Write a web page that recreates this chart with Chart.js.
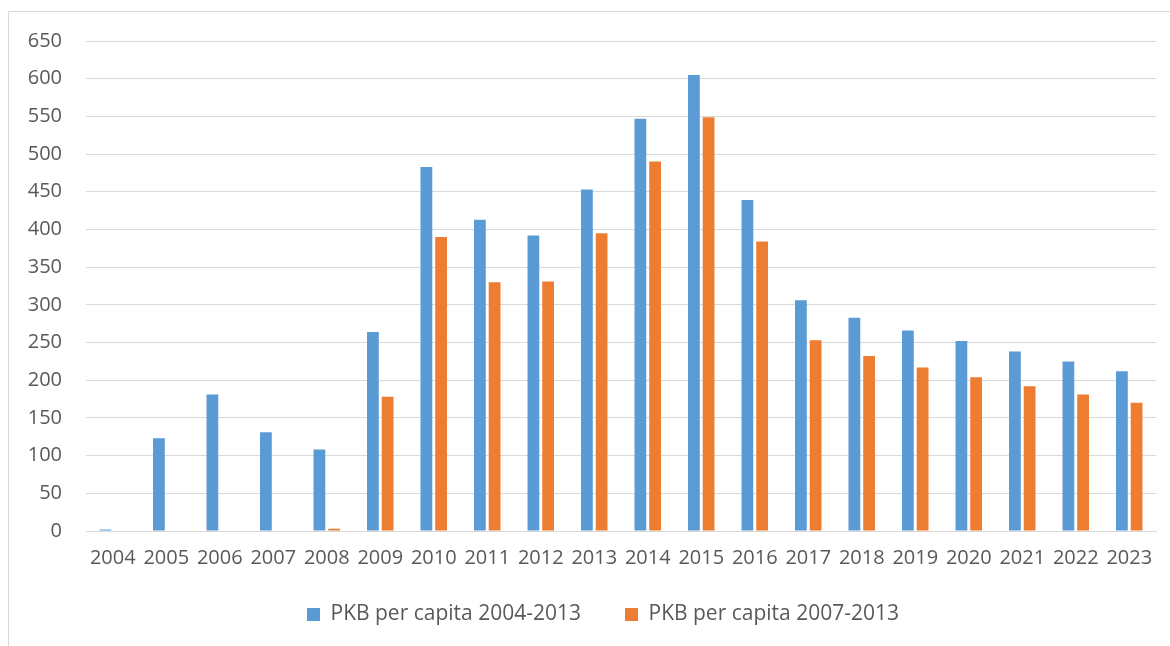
<!DOCTYPE html>
<html>
<head>
<meta charset="utf-8">
<script src="https://cdn.jsdelivr.net/npm/chart.js@4/dist/chart.umd.min.js"></script>
<style>
	html, body { margin: 0; padding: 0; background: #fff; }
	#wrap { position: relative; width: 1170px; height: 646px; overflow: hidden; }
	#frame { position: absolute; left: 8px; top: 11px; width: 1200px; height: 700px;
		border-left: 1px solid #d9d9d9; border-top: 1px solid #d9d9d9; }
	#c { position: absolute; left: 0; top: 0; }
</style>
</head>
<body>
<div id="wrap">
	<div id="frame"></div>
	<canvas id="c" width="1170" height="646"></canvas>
</div>
<script>
// Values
var years = ["2004", "2005", "2006", "2007", "2008", "2009", "2010", "2011", "2012", "2013",
	"2014", "2015", "2016", "2017", "2018", "2019", "2020", "2021", "2022", "2023"];
var pkb0413 = [2, 123, 181, 131, 108, 264, 483, 413, 392, 453,
	547, 605, 439, 306, 283, 266, 252, 238, 225, 212];
var pkb0713 = [0, 0, 0, 0, 3, 178, 390, 330, 331, 395,
	490, 549, 384, 253, 232, 217, 204, 192, 181, 170];
var seriesNames = ["PKB per capita 2004-2013", "PKB per capita 2007-2013"];

var textColor = "#595959";
var gridColor = "#d9d9d9";
var fontFamily = "'Open Sans', sans-serif";

// the legend needs wide gaps between items, so its padding is big;
// move the box back up and a bit to the right afterwards
var legendShift = {
	id: "legendShift",
	afterLayout: function(chart) {
		var lg = chart.legend;
		if (!lg) return;
		lg.left += 25;
		lg.right += 25;
		lg.top -= 11;
		lg.bottom -= 11;
	}
};

new Chart(document.getElementById("c"), {
	type: "bar",
	data: {
		labels: years,
		datasets: [
			{ label: seriesNames[0], data: pkb0413, backgroundColor: "#5b9bd5", borderWidth: 0,
				categoryPercentage: 0.55, barPercentage: 0.8 },
			{ label: seriesNames[1], data: pkb0713, backgroundColor: "#ed7d31", borderWidth: 0,
				categoryPercentage: 0.55, barPercentage: 0.8 }
		]
	},
	plugins: [legendShift],
	options: {
		responsive: false,
		animation: false,
		layout: { padding: { left: 0, right: 14, top: 41, bottom: 0 } },
		scales: {
			x: {
				grid: { display: false },
				border: { color: gridColor },
				ticks: { color: textColor, font: { family: fontFamily, size: 20 }, padding: 7,
					maxRotation: 0, autoSkip: false },
				afterFit: function(scale) { scale.height = 40; }
			},
			y: {
				min: 0,
				max: 650,
				border: { display: false },
				grid: { color: gridColor, drawTicks: false },
				ticks: { stepSize: 50, color: textColor, font: { family: fontFamily, size: 20 }, padding: 24 },
				afterFit: function(scale) { scale.width = 86; }
			}
		},
		plugins: {
			legend: {
				position: "bottom",
				labels: { color: textColor, font: { family: fontFamily, size: 21 }, boxWidth: 13, boxHeight: 13, padding: 44 }
			},
			tooltip: { enabled: false }
		}
	}
});
</script>
</body>
</html>
